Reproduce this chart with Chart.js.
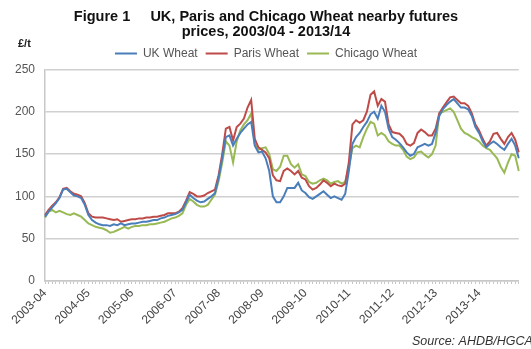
<!DOCTYPE html>
<html>
<head>
<meta charset="utf-8">
<script src="https://cdn.jsdelivr.net/npm/chart.js@4.4.0/dist/chart.umd.min.js"></script>
<style>
    html, body { margin: 0; padding: 0; background: #fff; }
</style>
</head>
<body>
<canvas id="wheat-chart" width="531" height="349"></canvas>
<script>
// crop years (July - June), monthly nearby futures, £/t
const years = ['2003-04', '2004-05', '2005-06', '2006-07', '2007-08', '2008-09',
    '2009-10', '2010-11', '2011-12', '2012-13', '2013-14'];
const months = ['Jul', 'Aug', 'Sep', 'Oct', 'Nov', 'Dec', 'Jan', 'Feb', 'Mar', 'Apr', 'May', 'Jun'];

const ukWheat = [
    76, 82, 87, 92, 98, 108, 109, 105, 101, 100, 98, 90,
    78, 72, 69, 67, 66, 66, 65, 67, 66, 68, 66, 67,
    68, 68, 69, 70, 70, 71, 72, 72, 74, 75, 77, 78,
    79, 81, 84, 93, 102, 98, 95, 93, 94, 97, 100, 104,
    122, 145, 170, 172, 160, 168, 175, 180, 185, 188, 160, 152,
    153, 145, 130, 100, 93, 93, 100, 110, 110, 110, 116, 107,
    104, 99, 97, 100, 103, 106, 102, 98, 100, 98, 96, 103,
    130, 162, 170, 175, 182, 188, 197, 200, 192, 207, 200, 180,
    170, 167, 163, 158, 152, 148, 150, 158, 160, 162, 160, 162,
    175, 195, 203, 208, 212, 215, 210, 205, 205, 203, 195, 182,
    175, 165, 158, 162, 165, 162, 158, 155, 162, 168, 160, 145
];
const parisWheat = [
    78, 84, 89, 93, 99, 109, 110, 106, 103, 102, 100, 92,
    80, 76, 75, 75, 75, 74, 73, 72, 73, 70, 71, 72,
    73, 73, 74, 74, 75, 75, 76, 76, 77, 78, 80, 80,
    80, 82, 86, 95, 105, 103, 100, 100, 101, 104, 106, 108,
    125, 150, 180, 182, 166, 182, 186, 192, 205, 214, 168, 158,
    155, 152, 145, 125, 119, 118, 130, 133, 130, 126, 130, 122,
    120, 112, 108, 110, 114, 119, 116, 112, 115, 113, 112, 115,
    140, 185, 190, 187, 190, 200, 220, 224, 207, 215, 212, 185,
    176, 175, 174, 170, 162, 160, 163, 175, 179, 176, 172, 172,
    180, 198, 205, 211, 217, 218, 214, 210, 210, 207, 198, 185,
    178, 168, 160, 165, 174, 175, 168, 162, 170, 175, 167, 152
];
const chicagoWheat = [
    75, 82, 84, 81, 83, 81, 79, 78, 80, 78, 76, 72,
    68, 66, 64, 63, 62, 60, 57, 58, 60, 62, 64, 62,
    64, 65, 65, 66, 66, 67, 67, 68, 69, 70, 72, 74,
    75, 77, 80, 90, 97, 94, 90, 88, 88, 90, 96, 102,
    118, 140, 165, 160, 140, 165, 178, 185, 190, 198, 162, 155,
    157, 158, 150, 132, 130, 135, 148, 148, 138, 134, 138, 126,
    124, 117, 115, 116, 119, 121, 119, 115, 117, 118, 115, 117,
    135, 157, 160, 158, 170, 180, 188, 186, 172, 175, 172, 165,
    162, 160, 160, 155, 147, 144, 146, 152, 153, 149, 146, 150,
    160, 198, 200, 202, 204, 200, 190, 180, 175, 173, 170, 168,
    165, 160, 157, 155, 150, 145, 135, 128, 140, 150, 148, 130
];

const yMin = 0;
const yMax = 250;
const yStep = 50;

const labels = [];
years.forEach(function (y) {
    months.forEach(function (m) {
        labels.push(y + ' ' + m);
    });
});

const FONT = "'Liberation Sans', Arial, sans-serif";

// £/t unit and source note
const extraText = {
    id: 'extraText',
    afterDraw: function (chart) {
        const ctx = chart.ctx;
        ctx.save();
        ctx.fillStyle = '#222';
        ctx.font = 'bold 11px ' + FONT;
        ctx.textBaseline = 'alphabetic';
        ctx.fillText('£/t', 18, 47);
        ctx.fillStyle = '#333';
        ctx.font = 'italic 12.5px ' + FONT;
        ctx.fillText('Source: AHDB/HGCA', 412, 345);
        ctx.restore();
    }
};

function lineSet(label, data, color) {
    return {
        label: label,
        data: data,
        borderColor: color,
        backgroundColor: color,
        borderWidth: 2,
        pointRadius: 0,
        pointStyle: 'line',
        tension: 0,
        fill: false
    };
}

const chart = new Chart(document.getElementById('wheat-chart'), {
    type: 'line',
    data: {
        labels: labels,
        datasets: [
            lineSet('UK Wheat', ukWheat, '#4a7ebb'),
            lineSet('Paris Wheat', parisWheat, '#be4b48'),
            lineSet('Chicago Wheat', chicagoWheat, '#98b954')
        ]
    },
    options: {
        responsive: false,
        animation: false,
        devicePixelRatio: 1,
        // a little left padding (with a narrower y scale) nudges title/legend right, plot stays at x=45
        layout: {padding: {top: 0, right: 11, bottom: 0, left: 12}},
        plugins: {
            title: {
                display: true,
                text: ['Figure 1     UK, Paris and Chicago Wheat nearby futures', 'prices, 2003/04 - 2013/14'],
                color: '#111',
                font: {family: FONT, size: 14.5, weight: 'bold', lineHeight: 1.05},
                padding: {top: 9, bottom: 0}
            },
            legend: {
                display: true,
                labels: {
                    usePointStyle: true,
                    pointStyleWidth: 22,
                    boxHeight: 8,
                    padding: 8,
                    color: '#555',
                    font: {family: FONT, size: 12}
                }
            },
            tooltip: {enabled: false}
        },
        scales: {
            x: {
                grid: {
                    display: true,
                    drawOnChartArea: false,
                    drawTicks: true,
                    tickLength: 3,
                    color: '#c8c8c8'
                },
                border: {display: true, color: '#c8c8c8', width: 1.5},
                ticks: {
                    autoSkip: false,
                    maxRotation: 45,
                    minRotation: 45,
                    padding: 2,
                    color: '#444',
                    font: {family: FONT, size: 12},
                    callback: function (value, index) {
                        return index % 12 === 0 ? years[index / 12] : '';
                    }
                },
                afterFit: function (scale) {
                    scale.height = 68;
                }
            },
            y: {
                min: yMin,
                max: yMax,
                grid: {
                    color: '#d0d0d0',
                    lineWidth: 1.5,
                    drawTicks: false
                },
                border: {display: true, color: '#c8c8c8', width: 1.5},
                ticks: {
                    stepSize: yStep,
                    padding: 10,
                    color: '#555',
                    font: {family: FONT, size: 12}
                },
                afterFit: function (scale) {
                    scale.width = 33;
                }
            }
        }
    },
    plugins: [extraText]
});
</script>
</body>
</html>
